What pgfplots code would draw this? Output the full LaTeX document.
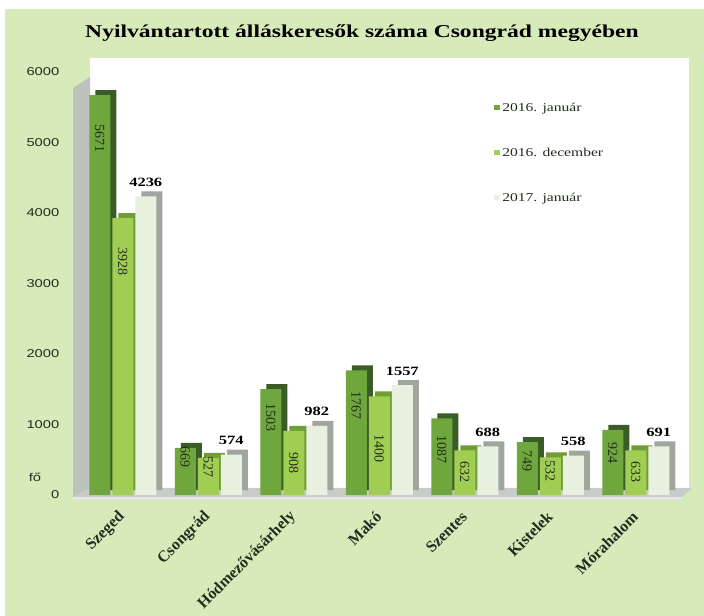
\documentclass[border=0pt]{standalone}
\usepackage{pgfplots}
\pgfplotsset{compat=1.18}
\usepackage{pgfplotstable}
\usepackage{fontspec}
\setmainfont{Liberation Serif}
\newfontfamily\tsans{Liberation Sans}
\definecolor{bg}{RGB}{214,234,186}
\definecolor{cA}{RGB}{112,166,62}
\definecolor{cAs}{RGB}{58,92,38}
\definecolor{cB}{RGB}{160,206,82}
\definecolor{cBs}{RGB}{110,158,52}
\definecolor{cC}{RGB}{232,240,224}
\definecolor{cCs}{RGB}{160,165,158}
\definecolor{wall}{RGB}{190,194,190}
\definecolor{txt}{RGB}{35,45,30}
\newcommand{\wide}[1]{\scalebox{1.3}[1]{#1}}

% la, lb: vertical position of the value labels written inside the bars
\pgfplotstableread{
x a b c la lb
0 5671 3928 4236 5063 3318
1 669 527 574 539 397
2 1503 908 982 1106 454
3 1767 1400 1557 1276 666
4 1087 632 688 652 326
5 749 532 558 482 340
6 924 633 691 596 326
}\data

\begin{document}
\begin{tikzpicture}
\begin{scope}[x=0.75pt,y=-0.75pt]
\fill[bg] (0,0) rectangle (704,616);
\fill[white] (0,0) rectangle (704,9);
\fill[white] (0,0) rectangle (5,616);
\fill[white] (90,58) rectangle (689,490);
\fill[wall] (73,88) -- (90,77) -- (90,490) -- (73,497) -- cycle;
\fill[wall!85] (73,497) -- (90,488) -- (692,488) -- (682,497) -- cycle;
\fill[white!60!wall] (73,497) rectangle (682,500);
\node[font=\bfseries\fontsize{13.6}{15}\selectfont, text=black] at (362,33) {\wide{Nyilvántartott álláskeresők száma Csongrád megyében}};
\node[font=\tsans\fontsize{8.5}{10}\selectfont, text=txt] at (35,477) {\wide{fő}};
\end{scope}
\begin{axis}[
  at={(60pt,-371.25pt)}, anchor=south west,
  scale only axis, width=448.9pt, height=317.25pt,
  xmin=-0.5, xmax=6.5, ymin=0, ymax=6000,
  axis line style={draw=none}, major tick length=0pt,
  xtick={0,...,6},
  xticklabels={Szeged,Csongrád,Hódmezővásárhely,Makó,Szentes,Kistelek,Mórahalom},
  xticklabel style={rotate=45, anchor=east, font=\bfseries\fontsize{12}{13}\selectfont, text=txt, yshift=-10pt, xshift=-7pt},
  ytick={0,1000,...,6000},
  yticklabel={\wide{\pgfmathprintnumber{\tick}}},
  yticklabel style={font=\tsans\fontsize{8.5}{10}\selectfont, text=txt, xshift=-12pt},
  /pgf/number format/assume math mode=true,
  /pgf/number format/1000 sep={},
  legend style={at={(0.685,0.94)}, anchor=north west, draw=none, fill=none,
    font=\fontsize{9}{10}\selectfont, text=txt, row sep=22pt},
  legend cell align=left,
  legend image code/.code={\fill[#1] (0.5pt,-1.5pt) rectangle (4.5pt,2.5pt);},
]
% 2016. januar
\addplot[ybar, bar width=15.75pt, bar shift=-17.25pt, fill=cAs, draw=none, xshift=4.5pt, yshift=3.75pt, forget plot] table[x=x,y=a]{\data};
\addplot[ybar, bar width=15.75pt, bar shift=-17.25pt, fill=cA, draw=none] table[x=x,y=a]{\data};
\addlegendentry{\wide{2016. január}}
% 2016. december
\addplot[ybar, bar width=15.75pt, bar shift=0pt, fill=cBs, draw=none, xshift=4.5pt, yshift=3.75pt, forget plot] table[x=x,y=b]{\data};
\addplot[ybar, bar width=15.75pt, bar shift=0pt, fill=cB, draw=none] table[x=x,y=b]{\data};
\addlegendentry{\wide{2016. december}}
% 2017. januar
\addplot[ybar, bar width=15.75pt, bar shift=17.25pt, fill=cCs, draw=none, xshift=4.5pt, yshift=3.75pt, forget plot] table[x=x,y=c]{\data};
\addplot[ybar, bar width=15.75pt, bar shift=17.25pt, fill=cC, draw=none,
  nodes near coords={\wide{\pgfmathprintnumber{\pgfplotspointmeta}}},
  every node near coord/.style={xshift=17.25pt, anchor=south, yshift=4pt, font=\bfseries\fontsize{9.5}{11}\selectfont, text=black}]
  table[x=x,y=c]{\data};
\addlegendentry{\wide{2017. január}}
% value labels inside the bars
\addplot[draw=none, mark=none, forget plot, nodes near coords, point meta=explicit symbolic,
  every node near coord/.style={xshift=-17.25pt, rotate=-90, anchor=center, font=\fontsize{10.5}{12}\selectfont, text=txt}]
  table[x=x,y=la,meta=a]{\data};
\addplot[draw=none, mark=none, forget plot, nodes near coords, point meta=explicit symbolic,
  every node near coord/.style={rotate=-90, anchor=center, font=\fontsize{10.5}{12}\selectfont, text=txt}]
  table[x=x,y=lb,meta=b]{\data};
\end{axis}
\pgfresetboundingbox
\useasboundingbox (0,0) rectangle (528pt,-462pt);
\end{tikzpicture}
\end{document}
